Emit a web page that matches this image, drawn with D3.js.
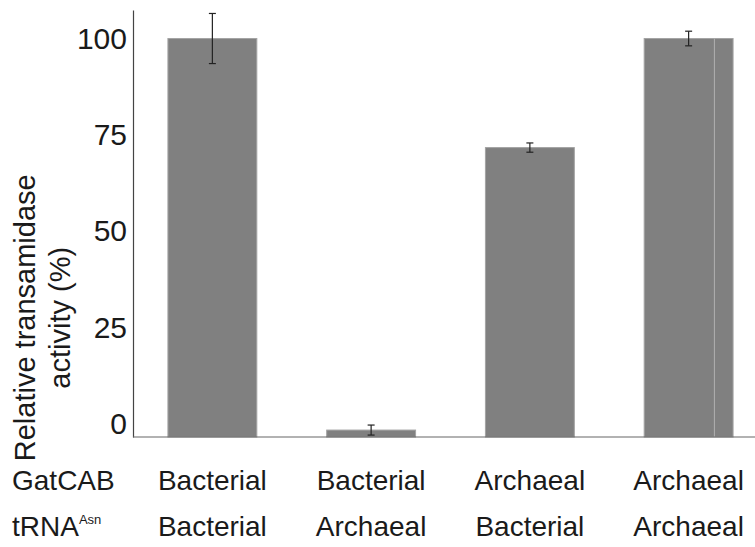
<!DOCTYPE html>
<html>
<head>
<meta charset="utf-8">
<script src="https://cdn.jsdelivr.net/npm/d3@7.9.0/dist/d3.min.js"></script>
<style>
  body { margin: 0; background: #fff; }
  text { font-family: "Liberation Sans", Arial, sans-serif; fill: #1a1a1a; }
</style>
</head>
<body>
<div id="chart"></div>
<script>
// data
const gatcab = ['Bacterial', 'Bacterial', 'Archaeal', 'Archaeal'];
const trna = ['Bacterial', 'Archaeal', 'Bacterial', 'Archaeal'];
const activity = [100, -1.6, 71.7, 100];
const errors = [6.5, 1.3, 1.2, 1.9];
const yTicks = [0, 25, 50, 75, 100];

const width = 755;
const height = 547;

const svg = d3.select('#chart')
  .append('svg')
  .attr('width', width)
  .attr('height', height);

const ids = activity.map((_, i) => i);

// band scale for the four conditions
const x = d3.scaleBand()
  .domain(ids)
  .range([133, 768])
  .paddingInner(0.44)
  .paddingOuter(0.22);

const y = d3.scaleLinear()
  .domain([-3.4, 107.4])
  .range([437, 10]);

const yBase = y.range()[0];

// bars
svg.selectAll('.bar')
  .data(ids)
  .enter()
  .append('rect')
  .attr('class', 'bar')
  .attr('x', i => x(i))
  .attr('width', x.bandwidth())
  .attr('y', i => y(activity[i]))
  .attr('height', i => yBase - y(activity[i]))
  .attr('fill', '#808080')
  .attr('stroke', '#a3a3a3')
  .attr('stroke-width', 1);

// faint line inside the last bar (as in the scan)
svg.append('line')
  .attr('x1', x(3) + x.bandwidth() * 0.79)
  .attr('x2', x(3) + x.bandwidth() * 0.79)
  .attr('y1', y(activity[3]))
  .attr('y2', yBase)
  .attr('stroke', '#b0b0b0')
  .attr('stroke-width', 1);

// error bars
const cap = 3.5;
const err = svg.selectAll('.err')
  .data(ids)
  .enter()
  .append('g')
  .attr('class', 'err')
  .attr('stroke', '#222')
  .attr('stroke-width', 1.2);

err.append('line')
  .attr('x1', i => x(i) + x.bandwidth() / 2)
  .attr('x2', i => x(i) + x.bandwidth() / 2)
  .attr('y1', i => y(activity[i] + errors[i]))
  .attr('y2', i => y(activity[i] - errors[i]));

err.append('line')
  .attr('x1', i => x(i) + x.bandwidth() / 2 - cap)
  .attr('x2', i => x(i) + x.bandwidth() / 2 + cap)
  .attr('y1', i => y(activity[i] + errors[i]))
  .attr('y2', i => y(activity[i] + errors[i]));

err.append('line')
  .attr('x1', i => x(i) + x.bandwidth() / 2 - cap)
  .attr('x2', i => x(i) + x.bandwidth() / 2 + cap)
  .attr('y1', i => y(activity[i] - errors[i]))
  .attr('y2', i => y(activity[i] - errors[i]));

// y axis (line only, labels without ticks)
const yAxis = d3.axisLeft(y)
  .tickValues(yTicks)
  .tickSize(0)
  .tickPadding(6);

const gy = svg.append('g')
  .attr('transform', 'translate(133,0)')
  .call(yAxis);
gy.select('.domain').attr('stroke', '#444').attr('stroke-width', 1.2);
gy.selectAll('text')
  .style('font-size', '30px')
  .attr('font-family', null)
  .attr('fill', '#1a1a1a');

// baseline
svg.append('line')
  .attr('x1', 133)
  .attr('x2', width)
  .attr('y1', yBase)
  .attr('y2', yBase)
  .attr('stroke', '#666')
  .attr('stroke-width', 1.2);

// y axis title (two lines)
const title = svg.append('text')
  .attr('transform', `translate(2,${(y(100) + y(-3.4)) / 2 + 80}) rotate(-90)`)
  .attr('text-anchor', 'middle')
  .style('font-size', '29px');
title.append('tspan').attr('x', 0).attr('y', 33).text('Relative transamidase');
title.append('tspan').attr('x', 0).attr('y', 68).text('activity (%)');

// category rows
svg.append('text')
  .attr('x', 12)
  .attr('y', 490)
  .style('font-size', '28px')
  .text('GatCAB');

const rowLabel = svg.append('text')
  .attr('x', 12)
  .attr('y', 536)
  .style('font-size', '28px');
rowLabel.append('tspan').text('tRNA');
rowLabel.append('tspan')
  .attr('dy', -12)
  .style('font-size', '13px')
  .text('Asn');

svg.selectAll('.gat')
  .data(ids)
  .enter()
  .append('text')
  .attr('class', 'gat')
  .attr('x', i => x(i) + x.bandwidth() / 2)
  .attr('y', 490)
  .attr('text-anchor', 'middle')
  .style('font-size', '28px')
  .text(i => gatcab[i]);

svg.selectAll('.trna')
  .data(ids)
  .enter()
  .append('text')
  .attr('class', 'trna')
  .attr('x', i => x(i) + x.bandwidth() / 2)
  .attr('y', 536)
  .attr('text-anchor', 'middle')
  .style('font-size', '28px')
  .text(i => trna[i]);
</script>
</body>
</html>
